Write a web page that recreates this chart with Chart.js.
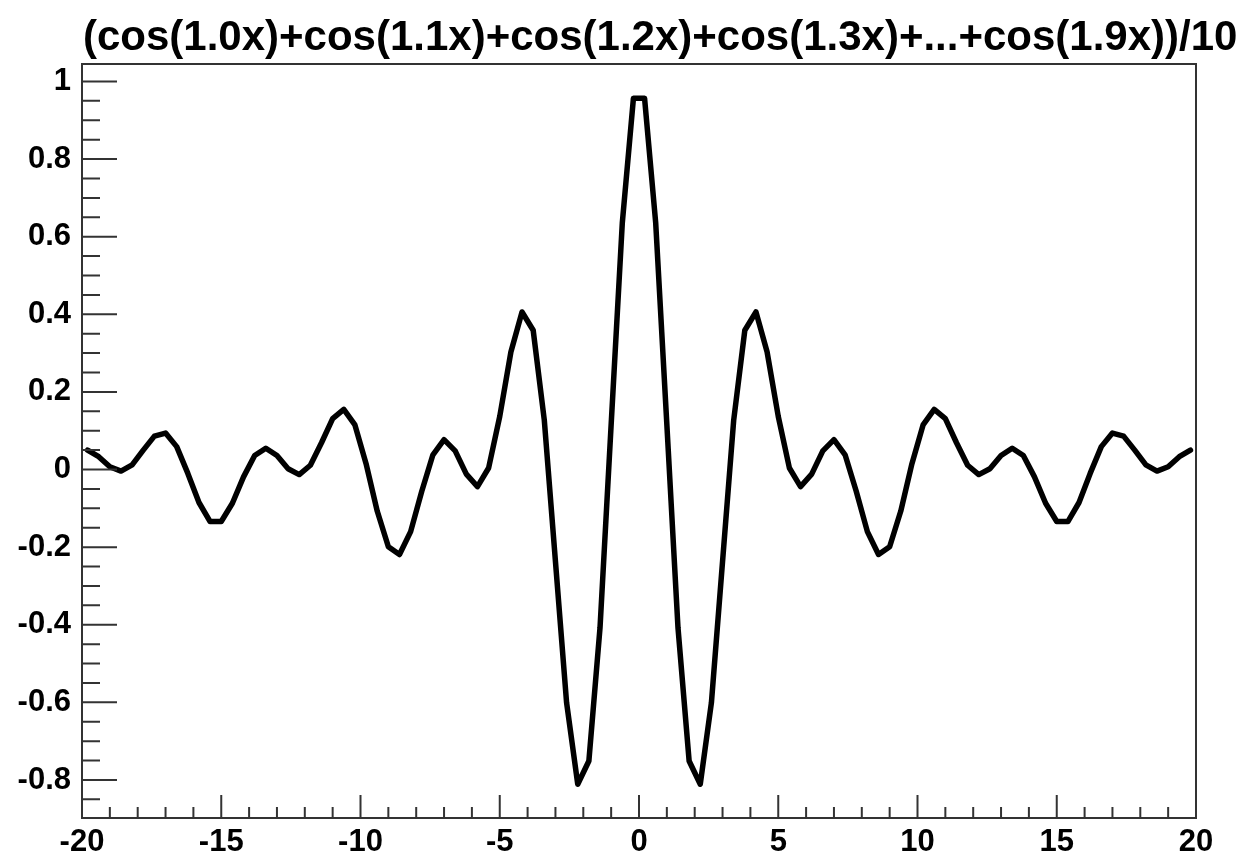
<!DOCTYPE html>
<html>
<head>
<meta charset="utf-8">
<script src="https://cdn.jsdelivr.net/npm/chart.js@4/dist/chart.umd.min.js"></script>
<style>
  html, body { margin: 0; padding: 0; background: #fff; }
  #wrap { width: 1238px; height: 861px; }
</style>
</head>
<body>
<div id="wrap"><canvas id="chart" width="1238" height="861"></canvas></div>
<script>
// Title and data
const titleText = '(cos(1.0x)+cos(1.1x)+cos(1.2x)+cos(1.3x)+...+cos(1.9x))/10';

const xValues = [
  -19.8, -19.4, -19.0, -18.6, -18.2, -17.8, -17.4, -17.0, -16.6, -16.2,
  -15.8, -15.4, -15.0, -14.6, -14.2, -13.8, -13.4, -13.0, -12.6, -12.2,
  -11.8, -11.4, -11.0, -10.6, -10.2, -9.8, -9.4, -9.0, -8.6, -8.2,
  -7.8, -7.4, -7.0, -6.6, -6.2, -5.8, -5.4, -5.0, -4.6, -4.2,
  -3.8, -3.4, -3.0, -2.6, -2.2, -1.8, -1.4, -1.0, -0.6, -0.2,
  0.2, 0.6, 1.0, 1.4, 1.8, 2.2, 2.6, 3.0, 3.4, 3.8,
  4.2, 4.6, 5.0, 5.4, 5.8, 6.2, 6.6, 7.0, 7.4, 7.8,
  8.2, 8.6, 9.0, 9.4, 9.8, 10.2, 10.6, 11.0, 11.4, 11.8,
  12.2, 12.6, 13.0, 13.4, 13.8, 14.2, 14.6, 15.0, 15.4, 15.8,
  16.2, 16.6, 17.0, 17.4, 17.8, 18.2, 18.6, 19.0, 19.4, 19.8
];

const yValues = [
  0.050, 0.033, 0.007, -0.004, 0.012, 0.050, 0.086, 0.094, 0.059, -0.010,
  -0.085, -0.134, -0.134, -0.087, -0.019, 0.036, 0.055, 0.036, 0.002, -0.013,
  0.011, 0.069, 0.131, 0.155, 0.115, 0.015, -0.107, -0.199, -0.219, -0.160,
  -0.056, 0.038, 0.077, 0.048, -0.012, -0.044, 0.004, 0.137, 0.303, 0.406,
  0.359, 0.127, -0.237, -0.601, -0.811, -0.751, -0.408, 0.116, 0.635, 0.957,
  0.957, 0.635, 0.116, -0.408, -0.751, -0.811, -0.601, -0.237, 0.127, 0.359,
  0.406, 0.303, 0.137, 0.004, -0.044, -0.012, 0.048, 0.077, 0.038, -0.056,
  -0.160, -0.219, -0.199, -0.107, 0.015, 0.115, 0.155, 0.131, 0.069, 0.011,
  -0.013, 0.002, 0.036, 0.055, 0.036, -0.019, -0.087, -0.134, -0.134, -0.085,
  -0.010, 0.059, 0.094, 0.086, 0.050, 0.012, -0.004, 0.007, 0.033, 0.050
];

// Axis ticks
const xMajorTicks = [-20, -15, -10, -5, 0, 5, 10, 15, 20];
const xTickLabels = ['-20', '-15', '-10', '-5', '0', '5', '10', '15', '20'];
const xMinorTicks = [-19, -18, -17, -16, -14, -13, -12, -11, -9, -8, -7, -6, -4, -3, -2, -1,
                     1, 2, 3, 4, 6, 7, 8, 9, 11, 12, 13, 14, 16, 17, 18, 19];
const yMajorTicks = [-0.8, -0.6, -0.4, -0.2, 0, 0.2, 0.4, 0.6, 0.8, 1];
const yTickLabels = ['-0.8', '-0.6', '-0.4', '-0.2', '0', '0.2', '0.4', '0.6', '0.8', '1'];
const yMinorTicks = [-0.85, -0.75, -0.7, -0.65, -0.55, -0.5, -0.45, -0.35, -0.3, -0.25,
                     -0.15, -0.1, -0.05, 0.05, 0.1, 0.15, 0.25, 0.3, 0.35, 0.45, 0.5, 0.55,
                     0.65, 0.7, 0.75, 0.85, 0.9, 0.95];

const FONT = '"Liberation Sans", Arial, Helvetica, sans-serif';

// Draws frame, inward ROOT-style ticks and the title
const frameAndTicks = {
  id: 'frameAndTicks',
  afterDraw(chart) {
    const { ctx, chartArea: a, scales } = chart;
    const xs = scales.x, ys = scales.y;
    ctx.save();

    ctx.strokeStyle = '#333';
    ctx.lineWidth = 2;
    ctx.strokeRect(a.left, a.top, a.right - a.left, a.bottom - a.top);

    ctx.beginPath();
    xMajorTicks.forEach(v => {
      const px = xs.getPixelForValue(v);
      ctx.moveTo(px, a.bottom); ctx.lineTo(px, a.bottom - 23);
    });
    xMinorTicks.forEach(v => {
      const px = xs.getPixelForValue(v);
      ctx.moveTo(px, a.bottom); ctx.lineTo(px, a.bottom - 11);
    });
    yMajorTicks.forEach(v => {
      const py = ys.getPixelForValue(v);
      ctx.moveTo(a.left, py); ctx.lineTo(a.left + 35, py);
    });
    yMinorTicks.forEach(v => {
      const py = ys.getPixelForValue(v);
      ctx.moveTo(a.left, py); ctx.lineTo(a.left + 18, py);
    });
    ctx.stroke();

    // title
    ctx.fillStyle = '#000';
    ctx.font = 'bold 42px ' + FONT;
    ctx.textAlign = 'left';
    ctx.textBaseline = 'alphabetic';
    ctx.fillText(titleText, 83, 50);

    ctx.restore();
  }
};

new Chart(document.getElementById('chart'), {
  type: 'line',
  data: {
    datasets: [{
      data: xValues.map((x, i) => ({ x: x, y: yValues[i] })),
      borderColor: '#000',
      borderWidth: 5.5,
      borderJoinStyle: 'round',
      borderCapStyle: 'round',
      pointRadius: 0,
      tension: 0,
      fill: false
    }]
  },
  options: {
    responsive: false,
    animation: false,
    layout: { padding: { top: 64, right: 42, left: 0, bottom: 0 } },
    plugins: {
      legend: { display: false },
      tooltip: { enabled: false },
      title: { display: false }
    },
    scales: {
      x: {
        type: 'linear',
        min: -20,
        max: 20,
        grid: { display: false, drawTicks: false },
        border: { display: false },
        afterBuildTicks: s => { s.ticks = xMajorTicks.map(v => ({ value: v })); },
        afterFit: s => { s.height = 43; },
        ticks: {
          autoSkip: false,
          maxRotation: 0,
          padding: 6,
          color: '#000',
          font: { family: FONT, size: 31, weight: 'bold' },
          callback: (v, i) => xTickLabels[i]
        }
      },
      y: {
        min: -0.898,
        max: 1.045,
        grid: { display: false, drawTicks: false },
        border: { display: false },
        afterBuildTicks: s => { s.ticks = yMajorTicks.map(v => ({ value: v })); },
        afterFit: s => { s.width = 82; },
        ticks: {
          autoSkip: false,
          padding: 11,
          color: '#000',
          font: { family: FONT, size: 31, weight: 'bold' },
          callback: (v, i) => yTickLabels[i]
        }
      }
    }
  },
  plugins: [frameAndTicks]
});
</script>
</body>
</html>
